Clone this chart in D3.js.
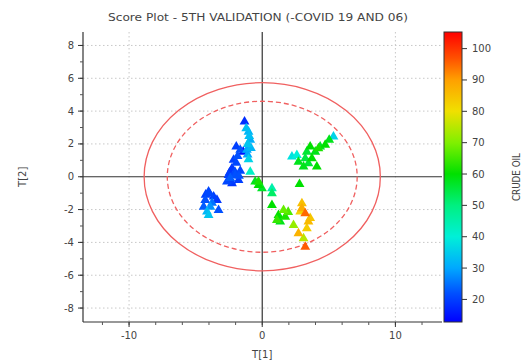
<!DOCTYPE html>
<html>
<head>
<meta charset="utf-8">
<script src="https://cdn.jsdelivr.net/npm/d3@7"></script>
<style>
  html, body { margin: 0; padding: 0; background: #fff; }
  svg { display: block; font-family: "DejaVu Sans", Verdana, sans-serif; }
</style>
</head>
<body>
<svg id="chart" width="528" height="363"></svg>
<script>
// Score values (T[1], T[2]) for each sample and its CRUDE OIL level
const t1 = [
  -1.33, -1.03, -0.98, -0.90, -1.09, -1.15, -1.03, -1.95, -1.65, -1.43,
  -2.15, -1.95, -2.27, -2.53, -2.03, -2.65, -1.78, -2.27, -2.40, -1.65,
  -4.03, -3.65, -4.28, -3.40, -4.40, -3.90, -3.28, -4.15, -4.03, -3.77,
  -0.90, -0.53, -0.28, -0.02, 0.73, 0.73, 0.73, -0.28,
  1.60, 1.22, 1.73, 1.35, 1.10, 2.35, 1.95,
  2.98, 2.85, 3.23, 2.98, 3.47, 3.35, 2.72, 3.10, 3.23, 3.60,
  5.35, 5.03, 4.73, 4.22, 3.60, 3.98, 3.35, 2.60, 2.23, 3.23,
  3.73, 2.72, 3.47, 4.10, 3.10, 4.35, 2.80,
  -2.35, -2.05, -1.85, -2.45, -1.75, -1.20, -0.85, -1.10, -4.25, -3.95
];
const t2 = [
  3.35, 2.74, 2.48, 2.24, 1.99, 1.63, 1.06, 1.83, 1.63, 1.52,
  1.02, 0.84, 0.51, 0.10, 0.10, -0.30, -0.20, -0.40, -0.08, 0.35,
  -0.91, -1.22, -1.42, -1.42, -1.83, -1.83, -2.03, -2.13, -2.34, -1.60,
  0.30, -0.30, -0.51, -0.71, -0.71, -1.01, -1.73, -0.30,
  -2.03, -2.34, -2.44, -2.74, -2.64, -2.95, -2.15,
  -1.62, -2.13, -2.23, -1.93, -2.74, -3.15, -3.45, -3.76, -4.27, -2.52,
  2.44, 2.24, 1.94, 1.73, 1.83, 1.52, 1.52, 1.32, 1.22, 1.12,
  1.12, 0.91, 0.82, 0.61, 0.61, 1.83, -0.45,
  -0.25, 0.30, 1.25, 0.25, 0.05, 2.95, 1.75, 1.35, -1.10, -1.05
];
const crudeOil = [
  18, 32, 33, 31, 34, 30, 36, 20, 22, 15,
  20, 21, 19, 20, 22, 21, 20, 19, 23, 21,
  21, 20, 22, 19, 23, 28, 22, 32, 34, 25,
  42, 58, 60, 57, 45, 52, 60, 62,
  68, 60, 62, 58, 64, 72, 66,
  85, 82, 95, 88, 86, 83, 87, 75, 96, 84,
  36, 58, 60, 62, 60, 58, 56, 40, 38, 55,
  60, 58, 56, 60, 58, 57, 60,
  20, 21, 22, 19, 22, 33, 32, 30, 20, 21
];

const xTicks = [-10, 0, 10];
const yTicks = [-8, -6, -4, -2, 0, 2, 4, 6, 8];
const colorTicks = [20, 30, 40, 50, 60, 70, 80, 90, 100];

// Hotelling T2 ellipse half-axes (99% solid, 95% dashed)
const ellipse99 = [8.87, 5.73];
const ellipse95 = [7.13, 4.60];

const title = "Score Plot - 5TH VALIDATION (-COVID 19 AND 06)";

const svg = d3.select("#chart");
const plot = { left: 83, right: 442, top: 32, bottom: 322 };
const textColor = "#444";

const x = d3.scaleLinear().domain([-13.46, 13.5]).range([plot.left, plot.right]);
const y = d3.scaleLinear().domain([-8.85, 8.82]).range([plot.bottom, plot.top]);

// Jet-like colour ramp
const cDomain = [12.8, 105.3];
const stopVals = [12.8, 22, 30, 40, 50, 60, 70, 80, 90, 97, 105.3];
const stopCols = ["#0000ff", "#0050ff", "#00a8ff", "#00f0d8", "#00f080", "#00e000",
                  "#80f000", "#f0e000", "#ffa000", "#ff5000", "#ff0000"];
const color = d3.scaleLinear().domain(stopVals).range(stopCols).clamp(true);

// Title
svg.append("text")
  .attr("x", 258).attr("y", 21)
  .attr("text-anchor", "middle")
  .attr("font-size", 11)
  .attr("fill", textColor)
  .attr("textLength", 300)
  .attr("lengthAdjust", "spacingAndGlyphs")
  .text(title);

// Dotted grid at major ticks
const grid = svg.append("g").attr("stroke", "#c8c8c8").attr("stroke-dasharray", "1.5,2.5").attr("stroke-width", 1);
xTicks.filter(d => d !== 0).forEach(d => {
  grid.append("line").attr("x1", x(d)).attr("x2", x(d)).attr("y1", plot.top).attr("y2", plot.bottom);
});
yTicks.filter(d => d !== 0).forEach(d => {
  grid.append("line").attr("x1", plot.left).attr("x2", plot.right).attr("y1", y(d)).attr("y2", y(d));
});

// Zero lines
svg.append("line").attr("x1", x(0)).attr("x2", x(0)).attr("y1", plot.top).attr("y2", plot.bottom)
  .attr("stroke", "#333").attr("stroke-width", 1.2);
svg.append("line").attr("x1", plot.left).attr("x2", plot.right).attr("y1", y(0)).attr("y2", y(0))
  .attr("stroke", "#333").attr("stroke-width", 1.2);

// Confidence ellipses
svg.append("ellipse")
  .attr("cx", x(0)).attr("cy", y(0))
  .attr("rx", x(ellipse99[0]) - x(0)).attr("ry", y(0) - y(ellipse99[1]))
  .attr("fill", "none").attr("stroke", "#f06060").attr("stroke-width", 1.3);
svg.append("ellipse")
  .attr("cx", x(0)).attr("cy", y(0))
  .attr("rx", x(ellipse95[0]) - x(0)).attr("ry", y(0) - y(ellipse95[1]))
  .attr("fill", "none").attr("stroke", "#f06060").attr("stroke-width", 1.3)
  .attr("stroke-dasharray", "5,3");

// Points
const pts = t1.map((d, i) => ({ t1: d, t2: t2[i], c: crudeOil[i] }));
const tri = d3.symbol().type(d3.symbolTriangle).size(42);
svg.append("g").selectAll("path")
  .data(pts.sort((a, b) => a.c - b.c))
  .join("path")
  .attr("d", tri)
  .attr("transform", d => `translate(${x(d.t1)},${y(d.t2)})`)
  .attr("fill", d => color(d.c));

// Axes
const xAxis = svg.append("g").attr("transform", `translate(0,${plot.bottom})`);
xAxis.append("line").attr("x1", plot.left).attr("x2", plot.right).attr("stroke", "#333").attr("stroke-width", 1.2);
xAxis.selectAll(".minor").data(d3.range(-12, 14, 2)).join("line")
  .attr("x1", d => x(d)).attr("x2", d => x(d)).attr("y1", 0).attr("y2", 3)
  .attr("stroke", "#555");
xAxis.selectAll(".major").data(xTicks).join("line")
  .attr("x1", d => x(d)).attr("x2", d => x(d)).attr("y1", 0).attr("y2", 5)
  .attr("stroke", "#333");
xAxis.selectAll("text").data(xTicks).join("text")
  .attr("x", d => x(d)).attr("y", 17)
  .attr("text-anchor", "middle").attr("font-size", 10).attr("fill", textColor)
  .text(d => d);

const yAxis = svg.append("g").attr("transform", `translate(${plot.left},0)`);
yAxis.append("line").attr("y1", plot.top).attr("y2", plot.bottom).attr("stroke", "#333").attr("stroke-width", 1.2);
yAxis.selectAll(".minor").data(d3.range(-8, 9, 1)).join("line")
  .attr("x1", -3).attr("x2", 0).attr("y1", d => y(d)).attr("y2", d => y(d))
  .attr("stroke", "#555");
yAxis.selectAll(".major").data(yTicks).join("line")
  .attr("x1", -5).attr("x2", 0).attr("y1", d => y(d)).attr("y2", d => y(d))
  .attr("stroke", "#333");
yAxis.selectAll("text").data(yTicks).join("text")
  .attr("x", -9).attr("y", d => y(d)).attr("dy", "0.35em")
  .attr("text-anchor", "end").attr("font-size", 10).attr("fill", textColor)
  .text(d => d);

// Axis titles
svg.append("text").attr("x", x(0)).attr("y", 358)
  .attr("text-anchor", "middle").attr("font-size", 10).attr("fill", textColor).text("T[1]");
svg.append("text").attr("transform", `translate(26,${y(0)}) rotate(-90)`)
  .attr("text-anchor", "middle").attr("font-size", 10).attr("fill", textColor).text("T[2]");

// Colour bar
const cb = { x: 444, w: 18, top: plot.top, bottom: plot.bottom };
const cScale = d3.scaleLinear().domain(cDomain).range([cb.bottom, cb.top]);
const defs = svg.append("defs");
const grad = defs.append("linearGradient").attr("id", "jet")
  .attr("x1", 0).attr("y1", 1).attr("x2", 0).attr("y2", 0);
grad.selectAll("stop").data(stopVals).join("stop")
  .attr("offset", d => (d - cDomain[0]) / (cDomain[1] - cDomain[0]))
  .attr("stop-color", d => color(d));
svg.append("rect")
  .attr("x", cb.x).attr("y", cb.top).attr("width", cb.w).attr("height", cb.bottom - cb.top)
  .attr("fill", "url(#jet)").attr("stroke", "#333").attr("stroke-width", 1);
const cAxis = svg.append("g").attr("transform", `translate(${cb.x + cb.w},0)`);
cAxis.selectAll("line").data(colorTicks).join("line")
  .attr("x1", 0).attr("x2", 5).attr("y1", d => cScale(d)).attr("y2", d => cScale(d))
  .attr("stroke", "#333");
cAxis.selectAll("text").data(colorTicks).join("text")
  .attr("x", 10).attr("y", d => cScale(d)).attr("dy", "0.35em")
  .attr("font-size", 10).attr("fill", textColor)
  .text(d => d);
svg.append("text").attr("transform", `translate(520,${(cb.top + cb.bottom) / 2}) rotate(-90)`)
  .attr("text-anchor", "middle").attr("font-size", 10).attr("fill", textColor)
  .attr("textLength", 48).attr("lengthAdjust", "spacingAndGlyphs")
  .text("CRUDE OIL");
</script>
</body>
</html>
